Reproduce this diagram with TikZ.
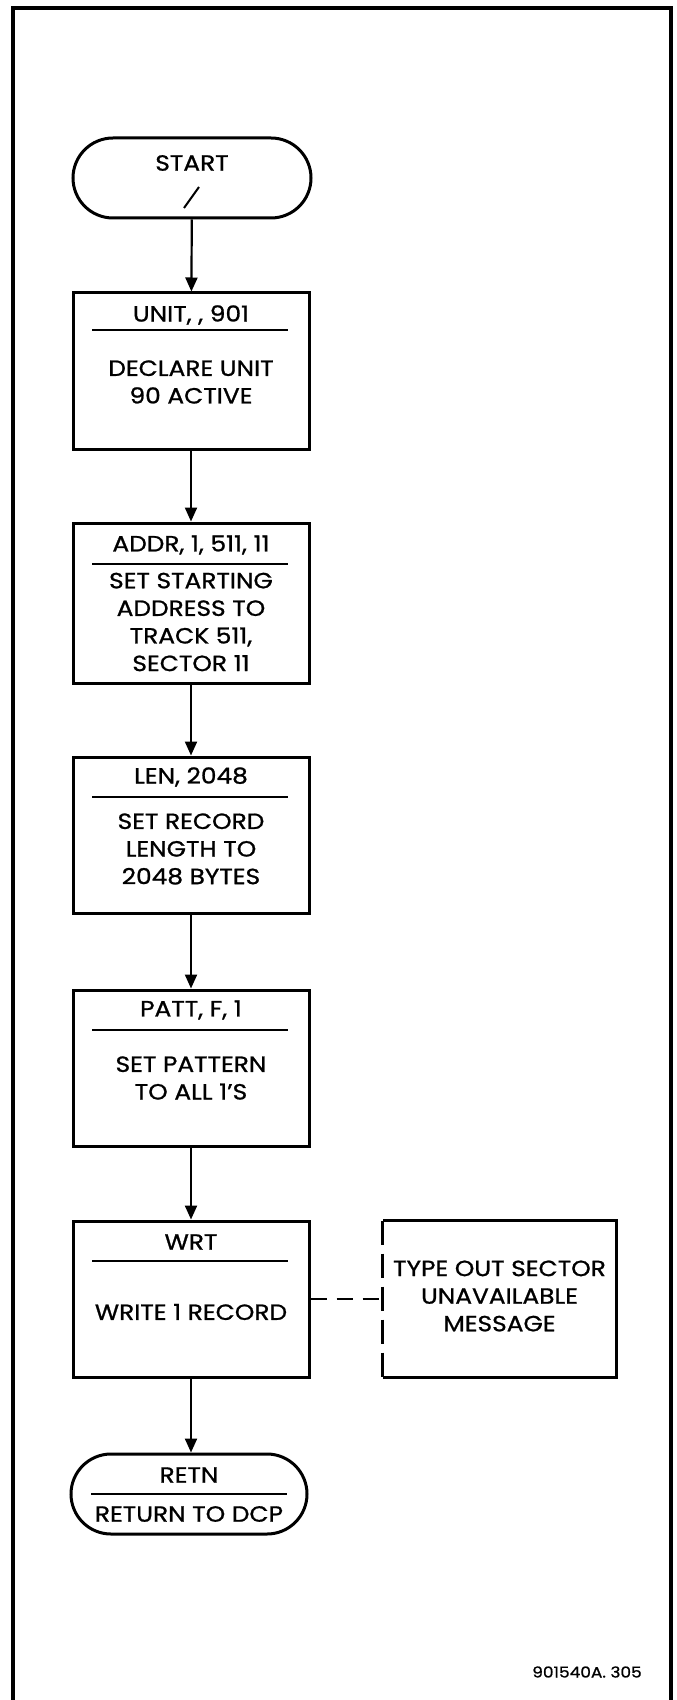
\documentclass[tikz,border=0pt]{standalone}
\usepackage{fontspec}
\setmainfont{Poppins}[FakeStretch=1.13, FakeBold=1]
\usetikzlibrary{arrows.meta}
\tikzset{
  box/.style={draw, line width=1.5pt, minimum width=118pt, minimum height=78pt, inner sep=0pt},
  term/.style={box, rounded corners=20pt, minimum width=119pt, minimum height=40pt},
  txt/.style={font=\fontsize{11}{13.8}\selectfont, align=center, inner sep=0pt},
  divider/.style={line width=1pt},
  flow/.style={line width=1.1pt, -{Triangle[length=7pt,width=6pt]}},
  side/.style={line width=1.1pt, dash pattern=on 8pt off 5pt},
}
\begin{document}
\begin{tikzpicture}[x=0.5pt,y=-0.5pt]
  \useasboundingbox (0,0) rectangle (676,1700);
  % open frame
  \draw[line width=2pt] (13,1700) -- (13,8) -- (671,8) -- (671,1700);

  % terminals and process boxes
  \node[term] (start) at (192,178) {};
  \node[txt] (start-t) at (192,163) {START};
  \draw[line width=1pt] (184,208) -- (199,187);

  \node[box] (unit) at (191,371) {};
  \node[txt] (unit-t) at (191,315) {UNIT, , 901};
  \draw[divider] (92,330) -- (288,330);
  \node[txt] (unit-b) at (191,382) {DECLARE UNIT\\90 ACTIVE};

  \node[box, minimum height=80pt] (addr) at (191,603) {};
  \node[txt] (addr-t) at (191,545) {ADDR, 1, 511, 11};
  \draw[divider] (92,564) -- (288,564);
  \node[txt] (addr-b) at (191,622) {SET STARTING\\ADDRESS TO\\TRACK 511,\\SECTOR 11};

  \node[box] (len) at (191,835) {};
  \node[txt] (len-t) at (191,777) {LEN, 2048};
  \draw[divider] (92,797) -- (288,797);
  \node[txt] (len-b) at (191,849) {SET RECORD\\LENGTH TO\\2048 BYTES};

  \node[box] (patt) at (191,1068) {};
  \node[txt] (patt-t) at (191,1010) {PATT, F, 1};
  \draw[divider] (92,1030) -- (288,1030);
  \node[txt] (patt-b) at (191,1078) {SET PATTERN\\TO ALL 1'S};

  \node[box] (wrt) at (191,1299) {};
  \node[txt] (wrt-t) at (191,1242) {WRT};
  \draw[divider] (92,1261) -- (288,1261);
  \node[txt] (wrt-b) at (191,1312) {WRITE 1 RECORD};

  % message box, dashed on the left
  \node[minimum width=116.5pt, minimum height=78pt, inner sep=0pt] (msg) at (499.5,1299) {};
  \draw[line width=1.5pt] (msg.south west) -- (msg.south east) -- (msg.north east) -- (msg.north west);
  \draw[line width=1.5pt, dash pattern=on 12pt off 4.5pt] (msg.north west) -- (msg.south west);
  \node[txt] (msg-b) at (499.5,1296) {TYPE OUT SECTOR\\UNAVAILABLE\\MESSAGE};

  \node[term, minimum width=118pt] (retn) at (189,1494) {};
  \node[txt] (retn-t) at (189,1475) {RETN};
  \draw[divider] (91,1494) -- (287,1494);
  \node[txt] (retn-b) at (189,1514) {RETURN TO DCP};

  \node[font=\fontsize{7.5}{9}\selectfont, inner sep=0pt] (fignum) at (587,1672) {901540A. 305};

  % connectors
  \draw[flow] (start) -- (unit);
  \draw[flow] (unit) -- (addr);
  \draw[flow] (addr) -- (len);
  \draw[flow] (len) -- (patt);
  \draw[flow] (patt) -- (wrt);
  \draw[flow] (wrt.south) -- (wrt.south |- retn.north);
  \draw[side] (wrt.east) -- (msg.west);
\end{tikzpicture}
\end{document}
